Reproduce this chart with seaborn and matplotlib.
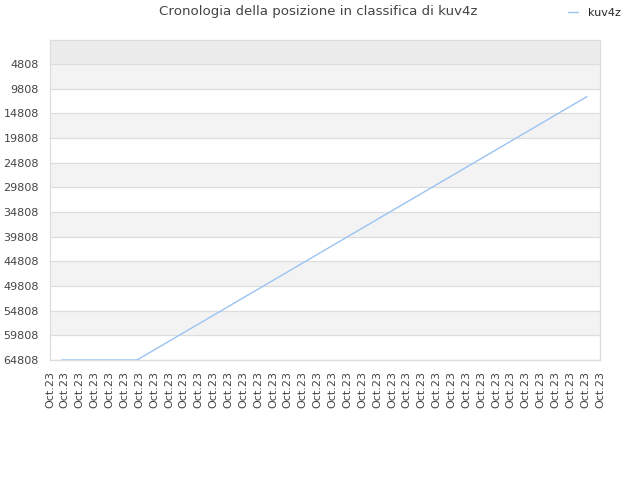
import matplotlib
matplotlib.use("Agg")
import matplotlib.pyplot as plt
import numpy as np
import pandas as pd
import seaborn as sns

# rank history (lower = better), one value per day
ranks = [64808, 64808, 64808, 64808, 64808, 64808, 63030, 61250, 59470, 57690,
         55910, 54130, 52350, 50570, 48790, 47010, 45230, 43450, 41670, 39890,
         38110, 36330, 34550, 32770, 30990, 29210, 27430, 25650, 23870, 22090,
         20310, 18530, 16750, 14970, 13190, 11410]
y_ticks = [4808, 9808, 14808, 19808, 24808, 29808, 34808, 39808, 44808,
           49808, 54808, 59808, 64808]
x_label = "Oct.23"
n_xlabels = 38
series_name = "kuv4z"
title = "Cronologia della posizione in classifica di kuv4z"

df = pd.DataFrame({"day": np.arange(len(ranks)), "rank": ranks})

sns.set_style("white")
plt.rcParams["font.family"] = ["DejaVu Sans"]

fig = plt.figure(figsize=(6.4, 4.8), dpi=100)
ax = fig.add_axes([50 / 640, 1 - 360 / 480, 550 / 640, 320 / 480])

x_lo, x_hi = -0.8, 35.87
y_top, y_bot = -70, 64808

# background bands
ax.axhspan(y_top, y_ticks[0], color="#ececec", zorder=0, lw=0)
for k in range(0, len(y_ticks) - 1, 2):
    ax.axhspan(y_ticks[k], y_ticks[k + 1], color="#f3f3f3", zorder=0, lw=0)
for t in y_ticks:
    ax.axhline(t, color="#dddddd", lw=0.9, zorder=1)

sns.lineplot(data=df, x="day", y="rank", ax=ax, color="#99c4f2", lw=1.0,
             label=series_name, legend=False, zorder=3)

ax.set_xlim(x_lo, x_hi)
ax.set_ylim(y_bot, y_top)
ax.set_yticks(y_ticks)
ax.set_yticklabels([str(t) for t in y_ticks])
ax.set_xticks(np.linspace(x_lo, x_hi, n_xlabels))
ax.set_xticklabels([x_label] * n_xlabels, rotation=90)
ax.tick_params(axis="both", length=0, labelsize=8, labelcolor="#444444")
ax.tick_params(axis="y", pad=8)
ax.tick_params(axis="x", pad=8)
ax.set_xlabel("")
ax.set_ylabel("")
for s in ax.spines.values():
    s.set_color("#dddddd")
    s.set_linewidth(0.9)

fig.text(0.497, 1 - 12 / 480, title, ha="center", va="center", fontsize=9.6,
         color="#444444")
handles, labels = ax.get_legend_handles_labels()
fig.legend(handles, labels, loc="center right", bbox_to_anchor=(0.985, 1 - 13 / 480),
           frameon=False, fontsize=8, handlelength=0.9, handletextpad=0.9)

fig.savefig("out.png", dpi=100)
